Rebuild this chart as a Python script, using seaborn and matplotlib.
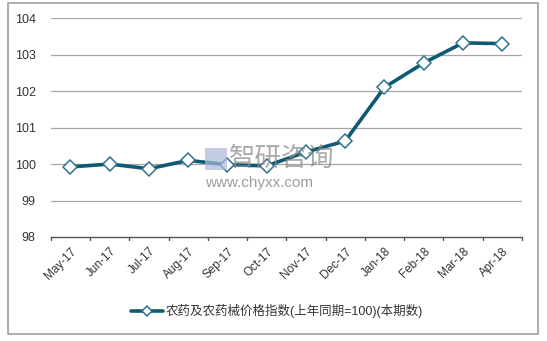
import matplotlib
matplotlib.use("Agg")
import matplotlib.pyplot as plt
import seaborn as sns
import pandas as pd
from matplotlib.patches import Rectangle

months = ["May-17", "Jun-17", "Jul-17", "Aug-17", "Sep-17", "Oct-17",
          "Nov-17", "Dec-17", "Jan-18", "Feb-18", "Mar-18", "Apr-18"]
values = [99.92, 100.0, 99.87, 100.1, 99.98, 99.95,
          100.33, 100.63, 102.1, 102.77, 103.32, 103.30]
series_name = "农药及农药械价格指数(上年同期=100)(本期数)"
yticks = [98, 99, 100, 101, 102, 103, 104]

sns.set_theme(style="white")
plt.rcParams['font.family'] = ['Liberation Sans', 'Noto Sans CJK SC', 'DejaVu Sans']

df = pd.DataFrame({"idx": range(len(months)), "value": values, "series": series_name})

fig = plt.figure(figsize=(5.47, 3.41), dpi=100)
ax = fig.add_axes([0.093, 0.305, 0.861, 0.642])

color = "#0F5A72"
sns.lineplot(data=df, x="idx", y="value", hue="series", palette=[color],
             marker="D", markersize=7, markerfacecolor="white",
             markeredgecolor="#2E7490", markeredgewidth=1.1,
             linewidth=2.6, ax=ax, legend=True, zorder=3)

ax.set_xlim(-0.5, len(months) - 0.5)
ax.set_ylim(98, 104)
ax.set_yticks(yticks)
ax.set_yticklabels([str(t) for t in yticks], fontsize=9, color="#333333")
ax.set_xticks(range(len(months)))
ax.set_xticklabels(months, rotation=45, ha="right", rotation_mode="anchor",
                   fontsize=8.5, color="#333333")
ax.tick_params(axis="x", length=0, pad=6)
ax.tick_params(axis="y", length=0, pad=11)
ax.set_xlabel("")
ax.set_ylabel("")
for y in yticks[1:]:
    ax.axhline(y, color="#A6A6A6", linewidth=0.9, zorder=1)
for s in ["top", "right", "left"]:
    ax.spines[s].set_visible(False)
ax.spines["bottom"].set_color("#555555")
ax.spines["bottom"].set_linewidth(1.0)
for b in [i - 0.5 for i in range(len(months) + 1)]:
    ax.plot([b, b], [98, 97.93], color="#555555", linewidth=1.0, clip_on=False)

leg = ax.legend(loc="center", bbox_to_anchor=(0.48, -0.34), frameon=False,
                fontsize=9, handlelength=2.6, handletextpad=0.2)
for t in leg.get_texts():
    t.set_color("#333333")
    t.set_family(['Liberation Sans', 'Noto Sans CJK SC', 'DejaVu Sans'])
for h in leg.legend_handles:
    h.set_markersize(5)

# watermark
fig.text(0.418, 0.535, "智研咨询", fontsize=19, color="#8C8C8C", alpha=0.75,
         family=['Noto Sans CJK SC'], ha="left", va="center", zorder=5)
fig.text(0.375, 0.462, "www.chyxx.com", fontsize=11, color="#8C8C8C", alpha=0.85,
         ha="left", va="center", zorder=5)
fig.patches.append(Rectangle((0.375, 0.502), 0.04, 0.064, transform=fig.transFigure,
                             facecolor="#A9B8D8", edgecolor="none", alpha=0.7))

# outer frame
fig.patches.append(Rectangle((0.015, 0.02), 0.968, 0.97, transform=fig.transFigure,
                             fill=False, edgecolor="#A0A0A0", linewidth=1.2))

fig.savefig("out.png", dpi=100)
